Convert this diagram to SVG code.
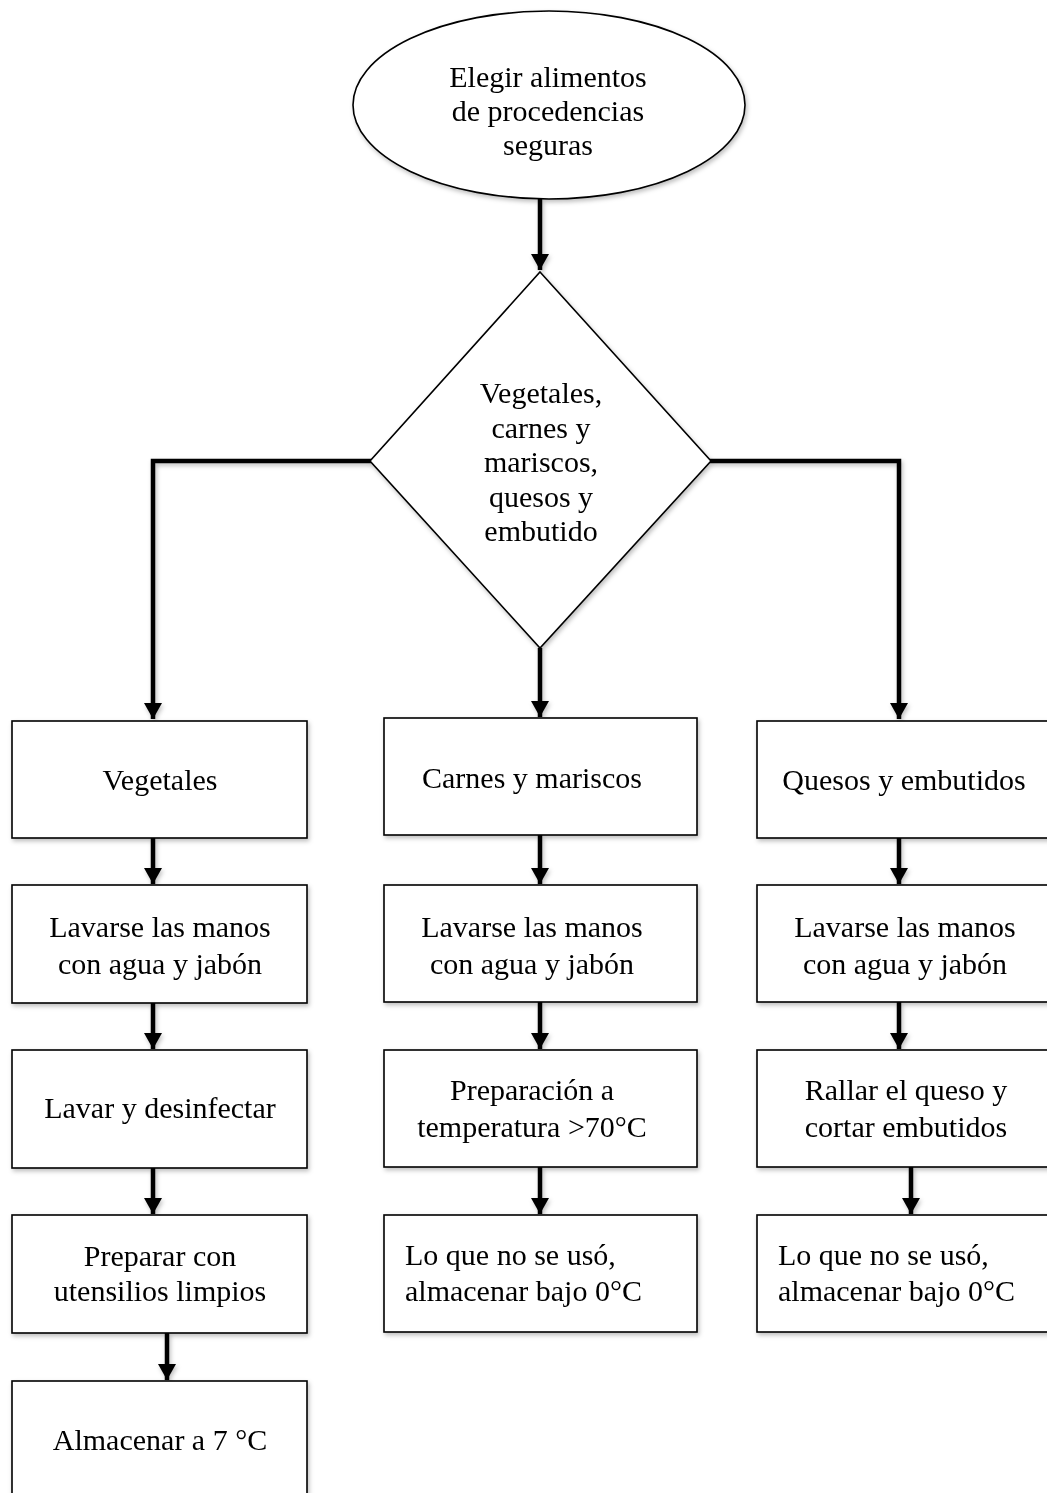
<svg xmlns="http://www.w3.org/2000/svg" width="1047" height="1493" viewBox="0 0 1047 1493">
<style>
.shape{fill:#fff;stroke:#000;stroke-width:1.6}
.t{font-family:"Liberation Serif","Times New Roman",serif;font-size:30px;fill:#000;text-anchor:middle}
.ts{text-anchor:start}
.conn{fill:none;stroke:#000;stroke-width:4.5;stroke-linejoin:miter}
</style>
<defs>
<filter id="sh" x="-10%" y="-10%" width="130%" height="130%">
<feDropShadow dx="1.5" dy="2.5" stdDeviation="2" flood-color="#000" flood-opacity="0.25"/>
</filter>
<marker id="ah" markerUnits="userSpaceOnUse" markerWidth="18" markerHeight="18" viewBox="0 0 18 18" refX="16" refY="9" orient="auto">
<path d="M0,0 L16,9 L0,18 Z" fill="#000"/>
</marker>
</defs>
<rect width="1047" height="1493" fill="#fff"/>

<g id="connectors" filter="url(#sh)">
<path class="conn" d="M540,199 V270" marker-end="url(#ah)"/>
<path class="conn" d="M371,461 H153 V719" marker-end="url(#ah)"/>
<path class="conn" d="M540,648 V717" marker-end="url(#ah)"/>
<path class="conn" d="M710,461 H899 V719" marker-end="url(#ah)"/>
<path class="conn" d="M153,838 V884" marker-end="url(#ah)"/>
<path class="conn" d="M153,1003 V1049" marker-end="url(#ah)"/>
<path class="conn" d="M153,1168 V1214" marker-end="url(#ah)"/>
<path class="conn" d="M167,1333 V1380" marker-end="url(#ah)"/>
<path class="conn" d="M540,835 V884" marker-end="url(#ah)"/>
<path class="conn" d="M540,1002 V1049" marker-end="url(#ah)"/>
<path class="conn" d="M540,1167 V1214" marker-end="url(#ah)"/>
<path class="conn" d="M899,838 V884" marker-end="url(#ah)"/>
<path class="conn" d="M899,1002 V1049" marker-end="url(#ah)"/>
<path class="conn" d="M911,1167 V1214" marker-end="url(#ah)"/>
</g>

<g id="start" filter="url(#sh)">
<ellipse class="shape" cx="549" cy="105" rx="196" ry="94"/>
<text class="t" x="548" y="87">Elegir alimentos</text>
<text class="t" x="548" y="121">de procedencias</text>
<text class="t" x="548" y="155">seguras</text>
</g>

<g id="decision" filter="url(#sh)">
<polygon class="shape" points="540,272 711,461 540,648 370,461"/>
<text class="t" x="541" y="403">Vegetales,</text>
<text class="t" x="541" y="438">carnes y</text>
<text class="t" x="541" y="472">mariscos,</text>
<text class="t" x="541" y="507">quesos y</text>
<text class="t" x="541" y="541">embutido</text>
</g>

<g id="vegetales" filter="url(#sh)">
<rect class="shape" x="12" y="721" width="295" height="117"/>
<text class="t" x="160" y="790">Vegetales</text>
</g>
<g id="veg-lavarse" filter="url(#sh)">
<rect class="shape" x="12" y="885" width="295" height="118"/>
<text class="t" x="160" y="937">Lavarse las manos</text>
<text class="t" x="160" y="974">con agua y jabón</text>
</g>
<g id="veg-lavar" filter="url(#sh)">
<rect class="shape" x="12" y="1050" width="295" height="118"/>
<text class="t" x="160" y="1118">Lavar y desinfectar</text>
</g>
<g id="veg-preparar" filter="url(#sh)">
<rect class="shape" x="12" y="1215" width="295" height="118"/>
<text class="t" x="160" y="1266">Preparar con</text>
<text class="t" x="160" y="1301">utensilios limpios</text>
</g>
<g id="veg-almacenar" filter="url(#sh)">
<rect class="shape" x="12" y="1381" width="295" height="130"/>
<text class="t" x="160" y="1450">Almacenar a 7 °C</text>
</g>

<g id="carnes" filter="url(#sh)">
<rect class="shape" x="384" y="718" width="313" height="117"/>
<text class="t" x="532" y="788">Carnes y mariscos</text>
</g>
<g id="carnes-lavarse" filter="url(#sh)">
<rect class="shape" x="384" y="885" width="313" height="117"/>
<text class="t" x="532" y="937">Lavarse las manos</text>
<text class="t" x="532" y="974">con agua y jabón</text>
</g>
<g id="carnes-preparacion" filter="url(#sh)">
<rect class="shape" x="384" y="1050" width="313" height="117"/>
<text class="t" x="532" y="1100">Preparación a</text>
<text class="t" x="532" y="1137">temperatura &gt;70°C</text>
</g>
<g id="carnes-almacenar" filter="url(#sh)">
<rect class="shape" x="384" y="1215" width="313" height="117"/>
<text class="t ts" x="405" y="1265">Lo que no se usó,</text>
<text class="t ts" x="405" y="1301">almacenar bajo 0°C</text>
</g>

<g id="quesos" filter="url(#sh)">
<rect class="shape" x="757" y="721" width="300" height="117"/>
<text class="t" x="904" y="790">Quesos y embutidos</text>
</g>
<g id="quesos-lavarse" filter="url(#sh)">
<rect class="shape" x="757" y="885" width="300" height="117"/>
<text class="t" x="905" y="937">Lavarse las manos</text>
<text class="t" x="905" y="974">con agua y jabón</text>
</g>
<g id="quesos-rallar" filter="url(#sh)">
<rect class="shape" x="757" y="1050" width="300" height="117"/>
<text class="t" x="906" y="1100">Rallar el queso y</text>
<text class="t" x="906" y="1137">cortar embutidos</text>
</g>
<g id="quesos-almacenar" filter="url(#sh)">
<rect class="shape" x="757" y="1215" width="300" height="117"/>
<text class="t ts" x="778" y="1265">Lo que no se usó,</text>
<text class="t ts" x="778" y="1301">almacenar bajo 0°C</text>
</g>
</svg>
